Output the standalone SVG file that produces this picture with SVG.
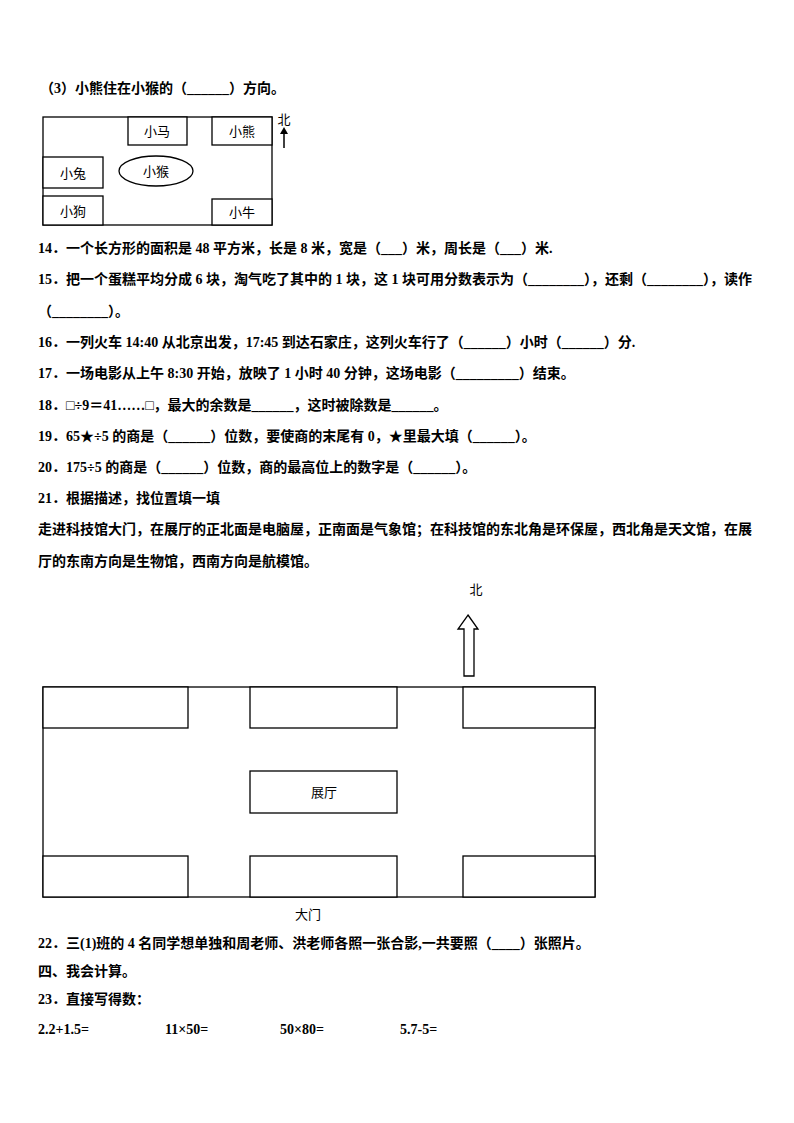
<svg xmlns="http://www.w3.org/2000/svg" width="794" height="1123" viewBox="0 0 794 1123">
<style>
.t{font-family:"Liberation Serif","Noto Sans CJK SC",serif;font-size:14px;font-weight:bold;fill:#000}
.l{font-family:"Noto Sans CJK SC",sans-serif;font-size:13px;fill:#000}
.b{fill:#fff;stroke:#000;stroke-width:1.3}
</style>
<rect width="794" height="1123" fill="#fff"/>
<text class="t" x="40" y="93">（3）小熊住在小猴的（______）方向。</text>
<g id="map1">
<rect class="b" x="43" y="117" width="229" height="108"/>
<g id="xiaoma"><rect class="b" x="128" y="117" width="59" height="28"/><text class="l" x="157" y="136" text-anchor="middle">小马</text></g>
<g id="xiaoxiong"><rect class="b" x="212" y="117" width="60" height="28"/><text class="l" x="242" y="136" text-anchor="middle">小熊</text></g>
<g id="xiaotu"><rect class="b" x="43" y="157" width="60" height="31"/><text class="l" x="73" y="178" text-anchor="middle">小兔</text></g>
<g id="xiaogou"><rect class="b" x="43" y="196" width="60" height="29"/><text class="l" x="73" y="216" text-anchor="middle">小狗</text></g>
<g id="xiaoniu"><rect class="b" x="212" y="199" width="60" height="26"/><text class="l" x="242" y="217" text-anchor="middle">小牛</text></g>
<g id="xiaohou"><ellipse class="b" cx="156" cy="171" rx="37" ry="15"/><text class="l" x="156" y="176" text-anchor="middle">小猴</text></g>
<g id="north1"><text class="l" x="284" y="124" text-anchor="middle">北</text><line x1="284" y1="148" x2="284" y2="132" stroke="#000" stroke-width="1.5"/><polygon points="280,134 288,134 284,127" fill="#000"/></g>
</g>
<text class="t" x="38" y="253">14．一个长方形的面积是 48 平方米，长是 8 米，宽是（___）米，周长是（___）米.</text>
<text class="t" x="38" y="284">15．把一个蛋糕平均分成 6 块，淘气吃了其中的 1 块，这 1 块可用分数表示为（________），还剩（________），读作</text>
<text class="t" x="38" y="316">（________）。</text>
<text class="t" x="38" y="347">16．一列火车 14:40 从北京出发，17:45 到达石家庄，这列火车行了（______）小时（______）分.</text>
<text class="t" x="38" y="378">17．一场电影从上午 8:30 开始，放映了 1 小时 40 分钟，这场电影（_________）结束。</text>
<text class="t" x="38" y="410">18．□÷9＝41……□，最大的余数是______，这时被除数是______。</text>
<text class="t" x="38" y="441">19．65★÷5 的商是（______）位数，要使商的末尾有 0，★里最大填（______）。</text>
<text class="t" x="38" y="472">20．175÷5 的商是（______）位数，商的最高位上的数字是（______）。</text>
<text class="t" x="38" y="503">21．根据描述，找位置填一填</text>
<text class="t" x="38" y="534">走进科技馆大门，在展厅的正北面是电脑屋，正南面是气象馆；在科技馆的东北角是环保屋，西北角是天文馆，在展</text>
<text class="t" x="38" y="566">厅的东南方向是生物馆，西南方向是航模馆。</text>
<g id="map2">
<rect class="b" x="43" y="687" width="552" height="210"/>
<g id="nw"><rect class="b" x="43" y="687" width="145" height="41"/></g>
<g id="n"><rect class="b" x="250" y="687" width="147" height="41"/></g>
<g id="ne"><rect class="b" x="463" y="687" width="132" height="41"/></g>
<g id="sw"><rect class="b" x="43" y="856" width="145" height="41"/></g>
<g id="s"><rect class="b" x="250" y="856" width="147" height="41"/></g>
<g id="se"><rect class="b" x="463" y="856" width="132" height="41"/></g>
<g id="hall"><rect class="b" x="250" y="771" width="147" height="42"/><text class="l" x="324" y="797" text-anchor="middle">展厅</text></g>
<g id="north2"><text class="l" x="476" y="594" text-anchor="middle">北</text><polygon class="b" points="468,615 478,629 474,629 474,676 464,676 464,629 458,629"/></g>
<text class="l" x="308" y="919" text-anchor="middle">大门</text>
</g>
<text class="t" x="38" y="948">22．三(1)班的 4 名同学想单独和周老师、洪老师各照一张合影,一共要照（____）张照片。</text>
<text class="t" x="38" y="976">四、我会计算。</text>
<text class="t" x="38" y="1004">23．直接写得数：</text>
<text class="t" x="38" y="1034">2.2+1.5=</text>
<text class="t" x="165" y="1034">11×50=</text>
<text class="t" x="280" y="1034">50×80=</text>
<text class="t" x="400" y="1034">5.7-5=</text>
</svg>
